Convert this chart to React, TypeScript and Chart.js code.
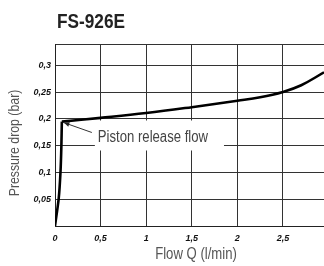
import React, { useEffect, useRef } from "react";
import { Chart, registerables } from "chart.js";

Chart.register(...registerables);

const chartTitle = "FS-926E";
const xTitle = "Flow Q (l/min)";
const yTitle = "Pressure drop (bar)";
const annotationText = "Piston release flow";

// rising part, up to the piston release point
const riseFlow = [0, 0.04, 0.06, 0.07, 0.075];
const risePressure = [0, 0.05, 0.1, 0.15, 0.195];
// flow part, after release
const flowValues = [0.075, 0.5, 1, 1.5, 2, 2.25, 2.5, 2.7, 2.95];
const pressureValues = [0.195, 0.202, 0.211, 0.222, 0.234, 0.2405, 0.2505, 0.263, 0.287];

const xTicks = [0, 0.5, 1, 1.5, 2, 2.5];
const yTicks = [0, 0.05, 0.1, 0.15, 0.2, 0.25, 0.3, 0.34];
const yLabelled = [0.05, 0.1, 0.15, 0.2, 0.25, 0.3];

// annotation: release point and text anchor (data units)
const releasePoint = { x: 0.075, y: 0.195 };
const textAnchor = { x: 0.47, y: 0.156 };

const FONT = '"Liberation Sans", Arial, sans-serif';
const NARROW_SCALE = 0.82;
const fmt = (v: number) => String(v).replace(".", ",");

function narrowText(ctx: any, text: string, x: number, y: number, align: "left" | "center") {
  ctx.save();
  ctx.translate(x, y);
  ctx.scale(NARROW_SCALE, 1);
  ctx.textAlign = align;
  ctx.fillText(text, 0, 0);
  ctx.restore();
}

export default function App() {
  const ref = useRef<HTMLCanvasElement | null>(null);

  useEffect(() => {
    if (!ref.current) return;
    const overlay = {
      id: "overlay",
      afterDatasetsDraw(chart: any) {
        const ctx = chart.ctx;
        const xs = chart.scales.x;
        const ys = chart.scales.y;
        ctx.save();
        const tx = xs.getPixelForValue(textAnchor.x);
        const ty = ys.getPixelForValue(textAnchor.y);
        ctx.font = `16px ${FONT}`;
        const w = ctx.measureText(annotationText).width * NARROW_SCALE;
        ctx.fillStyle = "#ffffff";
        ctx.fillRect(tx - 3, ty - 22, w + 19, 30);
        ctx.fillStyle = "#444";
        ctx.textBaseline = "alphabetic";
        narrowText(ctx, annotationText, tx, ty, "left");
        const px = xs.getPixelForValue(releasePoint.x) + 2;
        const py = ys.getPixelForValue(releasePoint.y) + 1;
        const sx = tx - 6;
        const sy = ty - 10;
        ctx.strokeStyle = "#333";
        ctx.lineWidth = 1;
        ctx.beginPath();
        ctx.moveTo(sx, sy);
        ctx.lineTo(px, py);
        ctx.stroke();
        const ang = Math.atan2(py - sy, px - sx);
        const L = 6;
        ctx.fillStyle = "#222";
        ctx.beginPath();
        ctx.moveTo(px, py);
        ctx.lineTo(px - L * Math.cos(ang - 0.4), py - L * Math.sin(ang - 0.4));
        ctx.lineTo(px - L * Math.cos(ang + 0.4), py - L * Math.sin(ang + 0.4));
        ctx.closePath();
        ctx.fill();
        ctx.restore();
      },
      afterDraw(chart: any) {
        const ctx = chart.ctx;
        ctx.save();
        ctx.fillStyle = "#222";
        ctx.font = `bold 21px ${FONT}`;
        ctx.textBaseline = "alphabetic";
        narrowText(ctx, chartTitle, 57, 28, "left");
        ctx.fillStyle = "#555";
        ctx.font = `16px ${FONT}`;
        ctx.textBaseline = "middle";
        narrowText(ctx, xTitle, 196, 255, "center");
        ctx.translate(15, 143);
        ctx.rotate(-Math.PI / 2);
        ctx.font = `15px ${FONT}`;
        narrowText(ctx, yTitle, 0, 0, "center");
        ctx.restore();
      },
    };

    const lineStyle = {
      borderColor: "#000",
      borderWidth: 2.6,
      pointRadius: 0,
      fill: false,
    };

    const chart = new Chart(ref.current, {
      type: "line",
      data: {
        datasets: [
          { ...lineStyle, data: riseFlow.map((x, i) => ({ x, y: risePressure[i] })), tension: 0.2 },
          { ...lineStyle, data: flowValues.map((x, i) => ({ x, y: pressureValues[i] })), tension: 0.4 },
        ],
      },
      options: {
        responsive: false,
        animation: false,
        layout: { padding: { top: 44, left: 0, right: 0, bottom: 0 } },
        plugins: { legend: { display: false }, tooltip: { enabled: false }, title: { display: false } },
        scales: {
          x: {
            type: "linear",
            min: 0,
            max: 2.95,
            afterBuildTicks: (s: any) => {
              s.ticks = xTicks.map((v) => ({ value: v }));
            },
            afterFit: (s: any) => {
              s.height = 40;
            },
            grid: { color: "#333", lineWidth: 1, drawTicks: false },
            border: { display: true, color: "#222", width: 1 },
            ticks: {
              padding: 7,
              color: "#111",
              maxRotation: 0,
              autoSkip: false,
              font: { family: FONT, size: 9, style: "italic", weight: "bold" },
              callback: (v: any) => fmt(Number(v)),
            },
          },
          y: {
            type: "linear",
            min: 0,
            max: 0.34,
            afterBuildTicks: (s: any) => {
              s.ticks = yTicks.map((v) => ({ value: v }));
            },
            afterFit: (s: any) => {
              s.width = 55;
            },
            grid: { color: "#333", lineWidth: 1, drawTicks: false },
            border: { display: true, color: "#222", width: 1 },
            ticks: {
              padding: 4,
              color: "#111",
              autoSkip: false,
              font: { family: FONT, size: 9, style: "italic", weight: "bold" },
              callback: (v: any) => (yLabelled.includes(Number(v)) ? fmt(Number(v)) : ""),
            },
          },
        },
      },
      plugins: [overlay],
    } as any);
    return () => chart.destroy();
  }, []);

  return (
    <div style={{ position: "fixed", left: 0, top: 0, width: 324, height: 266, background: "#fff" }}>
      <canvas ref={ref} width={324} height={266} />
    </div>
  );
}
